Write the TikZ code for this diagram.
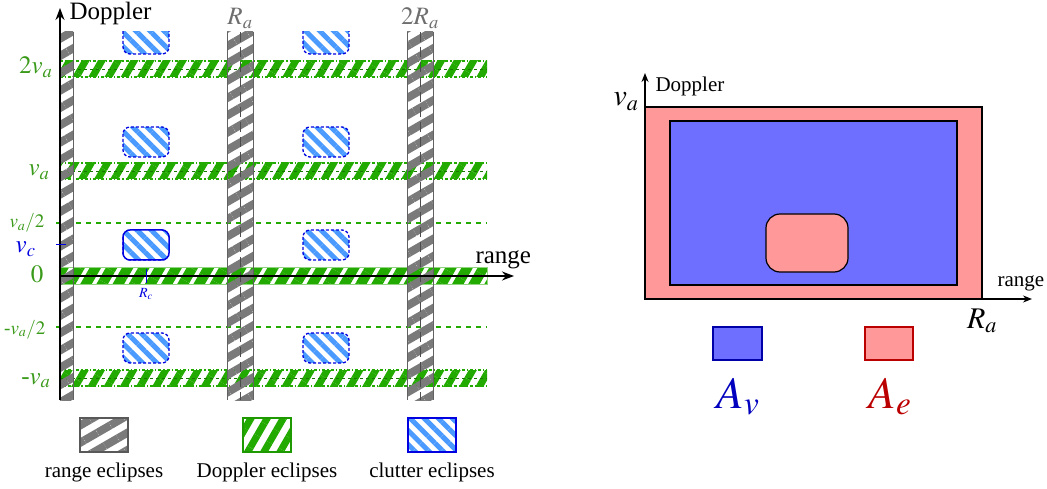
\documentclass[tikz,border=0pt]{standalone}
\usepackage{mathptmx}
\usepackage{fontspec}
\setmainfont{Liberation Serif}
\usetikzlibrary{patterns.meta,arrows.meta}

\definecolor{rgray}{HTML}{7A7A7A}
\definecolor{dgreen}{HTML}{22AA00}
\definecolor{tgreen}{HTML}{3A9A1A}
\definecolor{cblue}{HTML}{4A9AFF}
\definecolor{eblue}{HTML}{0000E0}
\definecolor{avblue}{HTML}{6F6FFF}
\definecolor{aepink}{HTML}{FF9999}
\definecolor{aered}{HTML}{BB0000}

\tikzset{
  rangeecl/.style={pattern={Lines[angle=30,distance=15pt,line width=8pt]},pattern color=rgray},
  dopecl/.style={pattern={Lines[angle=60,distance=14pt,line width=7pt]},pattern color=dgreen},
  clutecl/.style={pattern={Lines[angle=-45,distance=10pt,line width=5pt]},pattern color=cblue},
  big/.style={font=\fontsize{25}{30}\selectfont},
  mid/.style={font=\fontsize{21}{25}\selectfont},
  huge/.style={font=\fontsize{45}{50}\selectfont},
  axis/.style={line width=1.5pt,-{Stealth[length=12pt,width=9pt]}},
  smallaxis/.style={line width=1.5pt,-{Stealth[length=9pt,width=7pt]}},
}

\begin{document}
\begin{tikzpicture}[x=1pt,y=-1pt]
\useasboundingbox (0,0) rectangle (1047,489);

% left: ambiguity plane
\coordinate (o) at (60,276);
\coordinate (dtop) at (60,8);
\coordinate (dbot) at (60,400);
\coordinate (rend) at (514,276);

% doppler eclipses
\foreach \y in {69,171,378} {
  \path[dopecl] (60,\y-8) rectangle (487,\y+8);
  \draw[draw=dgreen,line width=1.2pt,dash dot] (60,\y-8) -- (487,\y-8);
  \draw[draw=dgreen,line width=1.2pt,dash dot] (60,\y+8) -- (487,\y+8);
  \draw[draw=dgreen!70!black,thick,dashed] (60,\y) -- (487,\y);
}
\path[pattern={Lines[angle=60,distance=14pt,line width=10pt]},pattern color=dgreen] (60,267) rectangle (487,284);
\draw[draw=dgreen!50,thick] (60,267) rectangle (487,284);
\foreach \y in {223,327}
  \draw[color=dgreen,line width=1.1pt,dash pattern=on 5pt off 5pt] (56,\y) -- (487,\y);

% range eclipses
\path[rangeecl] (60,32) rectangle (73,400);
\draw[draw=rgray!80!black,thick] (73,32) -- (73,400);
\foreach \x in {240,420} {
  \path[rangeecl] (\x-13,32) rectangle (\x+13,400);
  \draw[draw=rgray!80!black,thick] (\x-13,32) -- (\x-13,400);
  \draw[draw=rgray!80!black,thick] (\x+13,32) -- (\x+13,400);
  \draw[draw=black!70,thick,dash pattern=on 10pt off 5pt] (\x,32) -- (\x,400);
}

% clutter and its ghosts
\begin{scope}
\clip (0,32) rectangle (500,489);
\foreach \x in {146,326}
  \foreach \y in {39,142,245,348} {
    \path[fill=white] (\x-23,\y-15) rectangle (\x+23,\y+15);
    \path[clutecl,rounded corners=7pt] (\x-23,\y-15) rectangle (\x+23,\y+15);
    \draw[draw=eblue,line width=1.3pt,dash pattern=on 3pt off 2pt,rounded corners=7pt] (\x-23,\y-15) rectangle (\x+23,\y+15);
  }
\end{scope}
\path[fill=white] (123,230) rectangle (169,260);
\draw[clutecl,draw=eblue,line width=1.5pt,rounded corners=7pt] (123,230) rectangle (169,260);

% axes
\draw[axis] (dbot) -- (dtop);
\draw[axis] (o) -- (rend);
\draw[draw=eblue,thick] (56,244) -- (66,244);
\draw[draw=eblue,thick] (146,269) -- (146,283);

\node[big,anchor=base west] (dop) at (66,20) {Doppler};
\node[big,text=rgray!90!black,anchor=base] (ra1) at (240,25) {$R_a$};
\node[big,text=rgray!90!black,anchor=base] (ra2) at (420,25) {$2R_a$};
\node[big,anchor=base west] (rng) at (472,263) {range};
\node[big,text=tgreen,anchor=base east] (v2) at (56,74) {$2v_a$};
\node[big,text=tgreen,anchor=base east] (v1) at (53,176) {$v_a$};
\node[font=\fontsize{19}{22}\selectfont,text=tgreen,anchor=base east] (vh) at (48,228) {$v_a/2$};
\node[big,text=eblue,anchor=base east] (vc) at (39,253) {$v_c$};
\node[big,text=tgreen,anchor=base east] (v0) at (47,283) {$0$};
\node[font=\fontsize{19}{22}\selectfont,text=tgreen,anchor=base east] (vmh) at (49,334) {-$v_a/2$};
\node[big,text=tgreen,anchor=base east] (vm1) at (54,384) {-$v_a$};
\node[font=\fontsize{14}{16}\selectfont,text=eblue,anchor=base] (rc) at (146,297) {$R_c$};

% legend
\draw[rangeecl,draw=black!65,line width=1.5pt] (80,418) rectangle (128,452);
\draw[dopecl,draw=dgreen!90!black,line width=1.5pt] (243,418) rectangle (291,452);
\draw[clutecl,draw=eblue,line width=1.5pt] (408,418) rectangle (456,452);
\node[mid,anchor=base] (lr) at (104,477) {range eclipses};
\node[mid,anchor=base] (ld) at (267,477) {Doppler eclipses};
\node[mid,anchor=base] (lc) at (432,477) {clutter eclipses};

% right: visible and eclipsed areas
\coordinate (p) at (645,299);
\coordinate (ptop) at (645,73);
\coordinate (pend) at (1032,299);
\draw[fill=aepink,line width=1.5pt] (645,107) rectangle (982,299);
\draw[fill=avblue,line width=1.2pt] (670,121) rectangle (957,285);
\draw[fill=aepink,line width=1.2pt,rounded corners=14pt] (766,214) rectangle (848,272);
\draw[smallaxis] (p) -- (ptop);
\draw[smallaxis] (p) -- (pend);
\node[mid,anchor=base west] (dop2) at (652,92) {Doppler};
\node[font=\fontsize{30}{34}\selectfont,anchor=base east] (va2) at (642,106) {$v_a$};
\node[mid,anchor=base west] (rng2) at (994,287) {range};
\node[font=\fontsize{30}{34}\selectfont,anchor=base] (ra3) at (982,328) {$R_a$};

\draw[fill=avblue,draw=eblue!75!black,line width=1.5pt] (713,327) rectangle (762,360);
\draw[fill=aepink,draw=aered,line width=1.5pt] (865,327) rectangle (913,360);
\node[huge,text=eblue!85!black,anchor=base] (av) at (738,408) {$A_v$};
\node[huge,text=aered,anchor=base] (ae) at (890,408) {$A_e$};
\end{tikzpicture}
\end{document}
